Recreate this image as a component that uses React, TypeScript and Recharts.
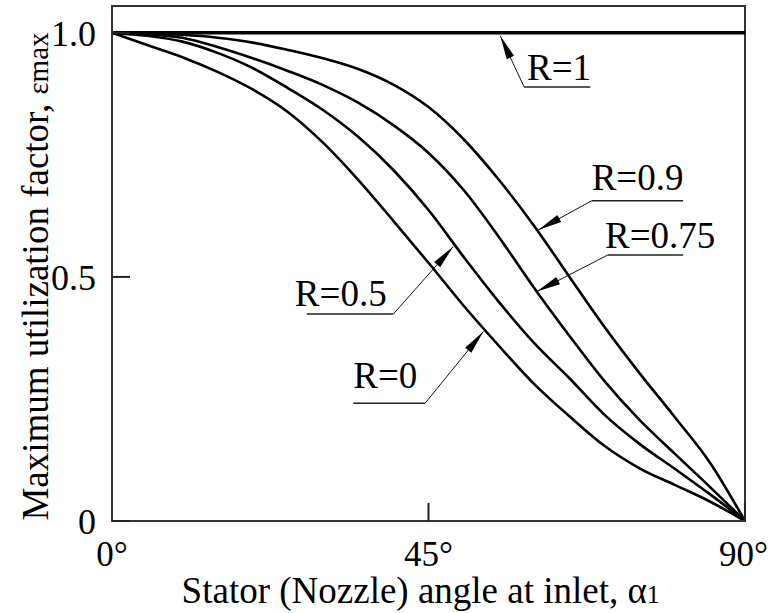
import React from "react";
import { LineChart, Line, XAxis, YAxis, ReferenceLine, ReferenceArea, ReferenceDot } from "recharts";

// stator angle at inlet, degrees
const angles = [0, 5, 10, 15, 20, 25, 30, 35, 40, 45, 50, 55, 60, 65, 70, 75, 80, 85, 90];

// maximum utilization factor
const r0 = [1.0, 0.975, 0.95, 0.92, 0.884, 0.838, 0.775, 0.699, 0.615, 0.529, 0.441, 0.359, 0.281, 0.215, 0.154, 0.108, 0.074, 0.04, 0];
const r05 = [1.0, 0.994, 0.982, 0.959, 0.928, 0.887, 0.842, 0.787, 0.719, 0.637, 0.541, 0.449, 0.365, 0.293, 0.218, 0.158, 0.107, 0.055, 0];
const r075 = [1.0, 0.997, 0.99, 0.971, 0.948, 0.922, 0.893, 0.857, 0.811, 0.754, 0.678, 0.582, 0.478, 0.38, 0.287, 0.207, 0.138, 0.07, 0];
const r09 = [1.0, 0.999, 0.996, 0.99, 0.98, 0.965, 0.948, 0.926, 0.894, 0.848, 0.782, 0.699, 0.605, 0.501, 0.398, 0.303, 0.213, 0.12, 0];
const r1 = [1, 1, 1, 1, 1, 1, 1, 1, 1, 1, 1, 1, 1, 1, 1, 1, 1, 1, 1];

const xTicks = [0, 45, 90];
const yTicks = [0, 0.5, 1];
const Y_MAX = 1.055;

// callouts: [angle, value] for arrow tip, bend, end of underline, text start
const annoLabels = ["R=1", "R=0.9", "R=0.75", "R=0.5", "R=0"];
const annoTips = [[55.2, 0.994], [60.6, 0.596], [60.4, 0.47], [48.5, 0.562], [52.8, 0.388]];
const annoBends = [[58.6, 0.889], [68.2, 0.656], [70.5, 0.545], [40.0, 0.424], [44.5, 0.241]];
const annoEnds = [[68.0, 0.889], [81.2, 0.656], [81.2, 0.545], [27.7, 0.424], [34.3, 0.241]];
const annoText = [[59.0, 0.904], [68.2, 0.678], [70.1, 0.559], [26.0, 0.441], [34.3, 0.273]];

const data = angles.map((a, i) => ({ a, r0: r0[i], r05: r05[i], r075: r075[i], r09: r09[i], r1: r1[i] }));

const FONT = "'Liberation Serif', 'Times New Roman', serif";

const Leader = (p: any) => {
  const { x1, y1, x2, y2 } = p;
  const dx = x2 - x1;
  const dy = y2 - y1;
  const len = Math.hypot(dx, dy) || 1;
  const ux = dx / len;
  const uy = dy / len;
  const L = 24;
  const W = 4;
  const bx = x2 - ux * L;
  const by = y2 - uy * L;
  const pts = `${x2},${y2} ${bx - uy * W},${by + ux * W} ${bx + uy * W},${by - ux * W}`;
  return (
    <g>
      <line x1={x1} y1={y1} x2={x2} y2={y2} stroke="#111" strokeWidth={1} />
      <polygon points={pts} fill="#000" />
    </g>
  );
};

const AnnoText = (label: string) => (p: any) => (
  <text x={p.cx} y={p.cy} style={{ fontFamily: FONT }} fontSize={37} fill="#000">
    {label}
  </text>
);

const XTitle = (props: any) => {
  const vb = props.viewBox;
  return (
    <text x={vb.x + vb.width / 2 - 8} y={vb.y + 82} textAnchor="middle" style={{ fontFamily: FONT }} fontSize={37} fill="#000">
      Stator (Nozzle) angle at inlet, <tspan>α</tspan>
      <tspan fontSize={25}>1</tspan>
    </text>
  );
};

const YTitle = (props: any) => {
  const vb = props.viewBox;
  const cx = vb.x + 48;
  const cy = vb.y + vb.height / 2 + 13;
  return (
    <text x={cx} y={cy} textAnchor="middle" transform={`rotate(-90, ${cx}, ${cy})`} style={{ fontFamily: FONT }} fontSize={37} fill="#000">
      Maximum utilization factor, <tspan fontSize={29}>εmax</tspan>
    </text>
  );
};

export default function App() {
  return (
    <div style={{ position: "absolute", left: 0, top: 0, background: "#fff", fontFamily: FONT }}>
      <LineChart width={768} height={613} data={data} margin={{ top: 6, right: 23, bottom: 0, left: 0 }} style={{ fontFamily: FONT }}>
        <XAxis
          dataKey="a"
          type="number"
          domain={[0, 90]}
          ticks={xTicks}
          tickFormatter={(v: number) => `${v}°`}
          height={92}
          tickSize={-18}
          tickMargin={38}
          axisLine={{ stroke: "#333", strokeWidth: 2 }}
          tickLine={{ stroke: "#222", strokeWidth: 2 }}
          tick={{ fontSize: 35, fill: "#000", style: { fontFamily: FONT } }}
          label={{ content: XTitle }}
        />
        <YAxis
          type="number"
          domain={[0, Y_MAX]}
          ticks={yTicks}
          tickFormatter={(v: number) => (v === 0 ? "0" : v.toFixed(1))}
          width={112}
          tickSize={-18}
          tickMargin={34}
          axisLine={{ stroke: "#333", strokeWidth: 2 }}
          tickLine={{ stroke: "#222", strokeWidth: 2 }}
          tick={{ fontSize: 36, fill: "#000", style: { fontFamily: FONT } }}
          label={{ content: YTitle }}
        />
        <ReferenceArea x1={0} x2={90} y1={0} y2={Y_MAX} fill="none" stroke="#333" strokeWidth={2} ifOverflow="visible" />
        <Line dataKey="r1" type="linear" stroke="#000" strokeWidth={3.5} dot={false} isAnimationActive={false} />
        <Line dataKey="r09" type="monotone" stroke="#000" strokeWidth={2.6} dot={false} isAnimationActive={false} />
        <Line dataKey="r075" type="monotone" stroke="#000" strokeWidth={2.6} dot={false} isAnimationActive={false} />
        <Line dataKey="r05" type="monotone" stroke="#000" strokeWidth={2.6} dot={false} isAnimationActive={false} />
        <Line dataKey="r0" type="monotone" stroke="#000" strokeWidth={2.6} dot={false} isAnimationActive={false} />
        {annoLabels.map((lab, i) => (
          <ReferenceLine
            key={`lead-${lab}`}
            segment={[
              { x: annoBends[i][0], y: annoBends[i][1] },
              { x: annoTips[i][0], y: annoTips[i][1] },
            ]}
            shape={Leader}
            ifOverflow="visible"
          />
        ))}
        {annoLabels.map((lab, i) => (
          <ReferenceLine
            key={`under-${lab}`}
            segment={[
              { x: annoBends[i][0], y: annoBends[i][1] },
              { x: annoEnds[i][0], y: annoEnds[i][1] },
            ]}
            stroke="#222"
            strokeWidth={1.5}
            ifOverflow="visible"
          />
        ))}
        {annoLabels.map((lab, i) => (
          <ReferenceDot
            key={`text-${lab}`}
            x={annoText[i][0]}
            y={annoText[i][1]}
            r={0}
            shape={AnnoText(lab)}
            ifOverflow="visible"
          />
        ))}
      </LineChart>
    </div>
  );
}
